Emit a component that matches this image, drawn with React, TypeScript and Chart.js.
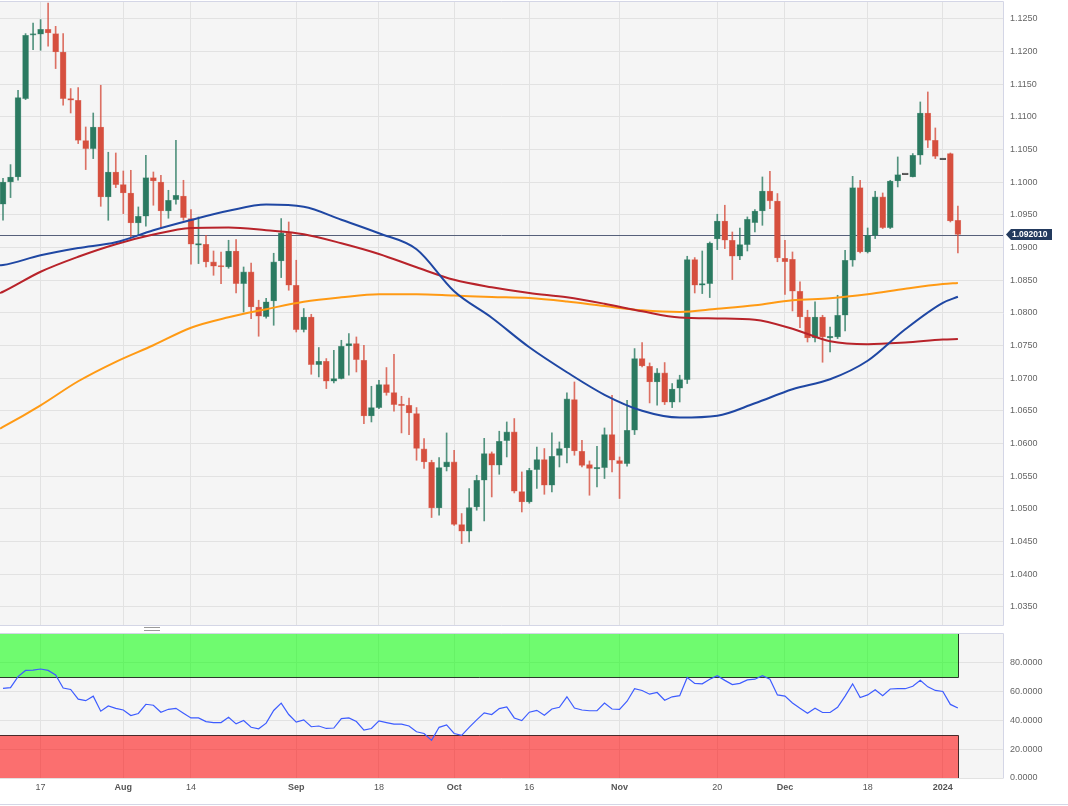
import React, { useEffect, useRef } from "react";
import { Chart, registerables } from "chart.js";
Chart.register(...registerables);

// Daily EUR/USD candles, 10 Jul 2023 -> 3 Jan 2024 (index = trading day)
const opens = [
  1.09664, 1.10005, 1.10082, 1.11282, 1.12253, 1.12266, 1.12342, 1.12276, 1.11995, 1.11282,
  1.11256, 1.10639, 1.10516, 1.10847, 1.09776, 1.10158, 1.09965, 1.09837, 1.09378, 1.09480,
  1.10072, 1.10005, 1.09561, 1.09736, 1.09791, 1.09445, 1.09036, 1.09052, 1.08781, 1.08715,
  1.08704, 1.08949, 1.08450, 1.08628, 1.08092, 1.07945, 1.08184, 1.08796, 1.09225, 1.08424,
  1.07746, 1.07939, 1.07210, 1.07261, 1.06955, 1.06996, 1.07495, 1.07532, 1.07276, 1.06424,
  1.06552, 1.06904, 1.06782, 1.06598, 1.06587, 1.06461, 1.05919, 1.05715, 1.05016, 1.05643,
  1.05720, 1.04762, 1.04659, 1.05031, 1.05440, 1.05848, 1.05669, 1.06047, 1.06179, 1.05266,
  1.05108, 1.05603, 1.05756, 1.05363, 1.05818, 1.05934, 1.06675, 1.05883, 1.05680, 1.05613,
  1.05634, 1.06139, 1.05741, 1.05695, 1.06205, 1.07302, 1.07184, 1.06944, 1.07082, 1.06633,
  1.06848, 1.06981, 1.08817, 1.08424, 1.08450, 1.09133, 1.09408, 1.09113, 1.08868, 1.09047,
  1.09384, 1.09561, 1.09867, 1.09714, 1.08837, 1.08822, 1.08332, 1.07939, 1.07618, 1.07939,
  1.07618, 1.07633, 1.07965, 1.08807, 1.09919, 1.08934, 1.09189, 1.09776, 1.09307, 1.10020,
  1.10118, 1.10082, 1.10414, 1.11061, 1.10643, 1.10348, 1.10440, 1.09419,
];
const highs = [
  1.10062, 1.10271, 1.11409, 1.12276, 1.12439, 1.12491, 1.12745, 1.12388, 1.12276, 1.11435,
  1.11450, 1.10847, 1.11061, 1.11485, 1.10460, 1.10449, 1.10173, 1.10184, 1.09623, 1.10414,
  1.10158, 1.10108, 1.09878, 1.10643, 1.10031, 1.09583, 1.09470, 1.09189, 1.08949, 1.08934,
  1.09113, 1.09124, 1.08704, 1.08765, 1.08195, 1.08225, 1.08914, 1.09445, 1.09393, 1.08807,
  1.08068, 1.07980, 1.07471, 1.07302, 1.07429, 1.07582, 1.07685, 1.07633, 1.07506, 1.06878,
  1.06970, 1.07165, 1.07368, 1.06725, 1.06699, 1.06552, 1.06078, 1.05746, 1.05787, 1.06164,
  1.05899, 1.04930, 1.05313, 1.05516, 1.06081, 1.05873, 1.06190, 1.06332, 1.06384, 1.05567,
  1.05623, 1.05949, 1.05925, 1.06164, 1.06026, 1.06776, 1.06944, 1.06052, 1.05735, 1.05960,
  1.06240, 1.06741, 1.05796, 1.06664, 1.07455, 1.07547, 1.07235, 1.07149, 1.07241, 1.06920,
  1.07047, 1.08868, 1.08848, 1.08949, 1.09087, 1.09511, 1.09649, 1.09240, 1.09301, 1.09470,
  1.09583, 1.10082, 1.10169, 1.09828, 1.09113, 1.08934, 1.08475, 1.08042, 1.08169, 1.07965,
  1.07786, 1.08271, 1.08960, 1.10092, 1.10031, 1.09301, 1.09863, 1.09837, 1.10031, 1.10388,
  1.10118, 1.10440, 1.11230, 1.11383, 1.10832, 1.10348, 1.10449, 1.09638,
];
const lows = [
  1.09419, 1.09766, 1.10031, 1.11266, 1.12032, 1.12021, 1.12082, 1.11741, 1.11179, 1.11061,
  1.10593, 1.10195, 1.10363, 1.09633, 1.09419, 1.09919, 1.09521, 1.09163, 1.09189, 1.09327,
  1.09649, 1.09292, 1.09450, 1.09664, 1.09419, 1.08746, 1.08756, 1.08704, 1.08577, 1.08450,
  1.08684, 1.08306, 1.08015, 1.07914, 1.07644, 1.07919, 1.07812, 1.08542, 1.08348, 1.07709,
  1.07709, 1.07062, 1.07021, 1.06843, 1.06929, 1.06990, 1.07047, 1.07097, 1.06307, 1.06332,
  1.06537, 1.06741, 1.06496, 1.06164, 1.06139, 1.05746, 1.05619, 1.04869, 1.04904, 1.05582,
  1.04750, 1.04471, 1.04495, 1.04981, 1.04817, 1.05184, 1.05531, 1.05796, 1.05245, 1.04954,
  1.05088, 1.05313, 1.05225, 1.05261, 1.05643, 1.05704, 1.05822, 1.05643, 1.05210, 1.05337,
  1.05466, 1.05567, 1.05160, 1.05654, 1.06139, 1.07174, 1.06623, 1.06588, 1.06598, 1.06552,
  1.06638, 1.06920, 1.08306, 1.08297, 1.08236, 1.08970, 1.08986, 1.08511, 1.08817, 1.08949,
  1.09240, 1.09342, 1.09598, 1.08784, 1.08283, 1.08031, 1.07777, 1.07556, 1.07556, 1.07246,
  1.07403, 1.07608, 1.07725, 1.08715, 1.08918, 1.08918, 1.09139, 1.09292, 1.09292, 1.09929,
  1.10118, 1.10082, 1.10276, 1.10532, 1.10363, 1.10348, 1.09393, 1.08918,
];
const closes = [
  1.10005, 1.10082, 1.11297, 1.12250, 1.12261, 1.12342, 1.12286, 1.11995, 1.11282, 1.11256,
  1.10643, 1.10516, 1.10847, 1.09776, 1.10158, 1.09965, 1.09837, 1.09378, 1.09480, 1.10072,
  1.10020, 1.09561, 1.09725, 1.09802, 1.09460, 1.09052, 1.09062, 1.08781, 1.08715, 1.08704,
  1.08949, 1.08450, 1.08628, 1.08092, 1.07950, 1.08172, 1.08781, 1.09225, 1.08424, 1.07746,
  1.07939, 1.07210, 1.07261, 1.06955, 1.06996, 1.07491, 1.07532, 1.07287, 1.06424, 1.06552,
  1.06904, 1.06782, 1.06598, 1.06583, 1.06470, 1.05925, 1.05720, 1.05016, 1.05634, 1.05720,
  1.04762, 1.04659, 1.05022, 1.05440, 1.05848, 1.05669, 1.06037, 1.06179, 1.05271, 1.05108,
  1.05593, 1.05756, 1.05363, 1.05807, 1.05925, 1.06684, 1.05888, 1.05665, 1.05619, 1.05628,
  1.06139, 1.05746, 1.05695, 1.06205, 1.07302, 1.07189, 1.06944, 1.07082, 1.06633, 1.06837,
  1.06981, 1.08817, 1.08424, 1.08450, 1.09071, 1.09408, 1.09113, 1.08868, 1.09047, 1.09434,
  1.09561, 1.09867, 1.09717, 1.08842, 1.08784, 1.08332, 1.07939, 1.07618, 1.07939, 1.07633,
  1.07644, 1.07965, 1.08807, 1.09919, 1.08934, 1.09189, 1.09776, 1.09307, 1.10020, 1.10118,
  1.10118, 1.10414, 1.11061, 1.10643, 1.10398, 1.10348, 1.09408, 1.09201,
];

// Moving averages read at sample trading-day indices
const maIdx = [-0.4, 0, 5, 10, 15, 20, 25, 30, 35, 40, 45, 50, 55, 60, 65, 70, 75, 80, 85, 90, 95, 100, 105, 110, 115, 120, 125, 127];
const ma50 = [
  1.08730, 1.08733, 1.08883, 1.08993, 1.09082, 1.09266, 1.09423, 1.09564, 1.09659, 1.09626,
  1.09427, 1.09220, 1.08975, 1.08332, 1.07927, 1.07475, 1.07093, 1.06748, 1.06503, 1.06399,
  1.06427, 1.06618, 1.06832, 1.06985, 1.07269, 1.07751, 1.08156, 1.08248,
];
const ma100 = [
  1.08306, 1.08325, 1.08631, 1.08860, 1.09052, 1.09200, 1.09300, 1.09310, 1.09266, 1.09205,
  1.09067, 1.08903, 1.08700, 1.08508, 1.08394, 1.08306, 1.08240, 1.08141, 1.08026, 1.07930,
  1.07916, 1.07896, 1.07758, 1.07567, 1.07521, 1.07547, 1.07593, 1.07602,
];
const ma200 = [
  1.06231, 1.06255, 1.06587, 1.06955, 1.07253, 1.07506, 1.07774, 1.07934, 1.08057, 1.08172,
  1.08240, 1.08286, 1.08286, 1.08266, 1.08245, 1.08228, 1.08175, 1.08106, 1.08041, 1.08015,
  1.08064, 1.08118, 1.08195, 1.08225, 1.08286, 1.08370, 1.08442, 1.08459,
];

// RSI(14) per candle
const rsi = [
  62.2, 62.8, 70.4, 74.7, 74.9, 75.7, 74.7, 71.6, 62.5, 61.5,
  54.8, 53.7, 56.8, 46.4, 50.0, 48.4, 47.2, 43.4, 44.8, 51.2,
  50.5, 45.7, 47.7, 48.4, 45.0, 41.7, 41.7, 39.2, 38.5, 38.5,
  42.1, 37.6, 39.9, 35.2, 34.2, 38.1, 46.9, 52.0, 44.1, 38.8,
  40.4, 35.6, 36.1, 34.4, 34.7, 41.2, 41.7, 39.2, 33.3, 34.4,
  39.7, 38.5, 37.4, 37.4, 36.1, 32.1, 30.9, 26.1, 35.2, 36.9,
  30.9, 29.6, 35.2, 40.4, 45.2, 44.1, 48.2, 49.3, 41.7, 39.9,
  45.7, 47.0, 43.6, 47.9, 49.1, 56.4, 48.6, 47.2, 46.7, 46.7,
  52.1, 47.9, 47.7, 53.3, 62.0, 60.8, 58.2, 59.4, 54.0, 56.4,
  57.2, 69.8, 65.7, 65.4, 68.6, 71.0, 67.8, 64.9, 65.7, 68.1,
  68.6, 71.0, 68.6, 57.7, 56.9, 52.1, 48.4, 45.0, 48.4, 45.5,
  45.5, 49.1, 56.9, 65.4, 55.9, 57.7, 61.3, 57.2, 61.8, 62.0,
  62.0, 63.7, 67.8, 63.3, 60.8, 60.1, 51.1, 48.6,
];

const xTickIdx = [5, 16, 25, 39, 50, 60, 70, 82, 95, 104, 115, 125];
const xTickLabels = ["17", "Aug", "14", "Sep", "18", "Oct", "16", "Nov", "20", "Dec", "18", "2024"];
const xTickBold = [false, true, false, true, false, true, false, true, false, true, false, true];
const priceTicks = [1.035, 1.04, 1.045, 1.05, 1.055, 1.06, 1.065, 1.07, 1.075, 1.08, 1.085, 1.09, 1.095, 1.1, 1.105, 1.11, 1.115, 1.12, 1.125];
const rsiTicks = [0, 20, 40, 60, 80];
const rsiUpper = 70;
const rsiLower = 30;

const FONT = "'Liberation Sans', Arial, sans-serif";
const GREEN = "#2b7a61";
const RED = "#d64f3e";
const DOJI = "#555555";
const GRID = "#e2e2e2";
const FRAME = "#d4d6e6";
const PLOTBG = "#f5f5f5";
const X_MIN = -0.4;
const X_MAX = 133;

const N = opens.length;
const candleColor = (i: number) =>
  highs[i] === lows[i] ? DOJI : closes[i] >= opens[i] ? GREEN : RED;

const xAxisBase = (showLabels: boolean) => ({
  type: "linear" as const,
  min: X_MIN,
  max: X_MAX,
  offset: false,
  grid: { color: GRID, drawTicks: false, offset: false },
  border: { display: false },
  afterBuildTicks: (s: any) => {
    s.ticks = xTickIdx.map((v) => ({ value: v }));
  },
  ticks: showLabels
    ? {
        display: true,
        autoSkip: false,
        maxRotation: 0,
        padding: 4,
        color: "#555",
        font: (ctx: any) => {
          const k = xTickIdx.indexOf(ctx.tick ? ctx.tick.value : -1);
          return { family: FONT, size: 9, weight: k >= 0 && xTickBold[k] ? "bold" : "normal" };
        },
        callback: (v: any) => {
          const k = xTickIdx.indexOf(Number(v));
          return k >= 0 ? xTickLabels[k] : "";
        },
      }
    : { display: false },
  afterFit: (s: any) => {
    s.height = showLabels ? 28 : 0;
    s.paddingLeft = 0;
    s.paddingRight = 0;
  },
});

export default function App() {
  const mainRef = useRef<HTMLCanvasElement>(null);
  const rsiRef = useRef<HTMLCanvasElement>(null);

  useEffect(() => {
    const idx = opens.map((_, i) => i);
    const colors = idx.map(candleColor);
    const lastPrice = closes[N - 1];

    const mainDecor = {
      id: "mainDecor",
      beforeDraw(chart: any) {
        const { ctx, chartArea: a } = chart;
        ctx.save();
        ctx.fillStyle = PLOTBG;
        ctx.fillRect(a.left, a.top, a.right - a.left, a.bottom - a.top);
        ctx.restore();
      },
      beforeDatasetsDraw(chart: any) {
        const { ctx, chartArea: a } = chart;
        const y = Math.round(chart.scales.y.getPixelForValue(lastPrice)) + 0.5;
        ctx.save();
        ctx.strokeStyle = "#56607a";
        ctx.lineWidth = 1;
        ctx.beginPath();
        ctx.moveTo(a.left, y);
        ctx.lineTo(a.right, y);
        ctx.stroke();
        ctx.restore();
      },
      afterDraw(chart: any) {
        const { ctx, chartArea: a } = chart;
        ctx.save();
        ctx.strokeStyle = FRAME;
        ctx.lineWidth = 1;
        ctx.beginPath();
        ctx.moveTo(0, a.top - 0.5);
        ctx.lineTo(a.right + 0.5, a.top - 0.5);
        ctx.lineTo(a.right + 0.5, a.bottom + 0.5);
        ctx.lineTo(0, a.bottom + 0.5);
        ctx.stroke();
        // last price tag
        const y = chart.scales.y.getPixelForValue(lastPrice);
        const x0 = a.right + 3;
        const w = 46;
        const h = 11;
        ctx.fillStyle = "#233a5e";
        ctx.beginPath();
        ctx.moveTo(x0, y);
        ctx.lineTo(x0 + 5, y - h / 2);
        ctx.lineTo(x0 + w, y - h / 2);
        ctx.lineTo(x0 + w, y + h / 2);
        ctx.lineTo(x0 + 5, y + h / 2);
        ctx.closePath();
        ctx.fill();
        ctx.fillStyle = "#ffffff";
        ctx.font = `bold 8.5px ${FONT}`;
        ctx.textBaseline = "middle";
        ctx.textAlign = "left";
        ctx.fillText(lastPrice.toFixed(6), x0 + 6, y + 0.5);
        ctx.restore();
      },
    };

    const main = new Chart(mainRef.current as HTMLCanvasElement, {
      type: "bar",
      data: {
        datasets: [
          {
            type: "line",
            label: "SMA50",
            data: maIdx.map((x, k) => ({ x, y: ma50[k] })),
            borderColor: "#1f47a3",
            borderWidth: 2,
            pointRadius: 0,
            cubicInterpolationMode: "monotone",
            order: 0,
          },
          {
            type: "line",
            label: "SMA100",
            data: maIdx.map((x, k) => ({ x, y: ma100[k] })),
            borderColor: "#b8232a",
            borderWidth: 2,
            pointRadius: 0,
            cubicInterpolationMode: "monotone",
            order: 0,
          },
          {
            type: "line",
            label: "SMA200",
            data: maIdx.map((x, k) => ({ x, y: ma200[k] })),
            borderColor: "#ff9a14",
            borderWidth: 2,
            pointRadius: 0,
            cubicInterpolationMode: "monotone",
            order: 0,
          },
          {
            type: "bar",
            label: "body",
            data: idx.map((i) => ({ x: i, y: [opens[i], closes[i]] })) as any,
            backgroundColor: colors,
            borderColor: colors.map((c) => (c === DOJI ? c : c + "99")),
            borderWidth: 0.6,
            borderSkipped: false,
            barThickness: 6,
            minBarLength: 1.5,
            grouped: false,
            order: 1,
          },
          {
            type: "bar",
            label: "wick",
            data: idx.map((i) => ({ x: i, y: [lows[i], highs[i]] })) as any,
            backgroundColor: colors.map((c) => c + "cc"),
            borderWidth: 0,
            barThickness: 1,
            grouped: false,
            order: 2,
          },
        ],
      },
      options: {
        responsive: false,
        animation: false,
        devicePixelRatio: 1,
        events: [],
        layout: { padding: { top: 2, bottom: 1, left: 0, right: 0 } },
        plugins: { legend: { display: false }, tooltip: { enabled: false } },
        scales: {
          x: xAxisBase(false) as any,
          y: {
            type: "linear",
            position: "right",
            min: 1.03224,
            max: 1.1276,
            grid: { color: GRID, drawTicks: false },
            border: { display: false },
            afterBuildTicks: (s: any) => {
              s.ticks = priceTicks.map((v) => ({ value: v }));
            },
            ticks: {
              padding: 7,
              color: "#666",
              font: { family: FONT, size: 9 },
              callback: (v: any) => Number(v).toFixed(4),
            },
            afterFit: (s: any) => {
              s.width = 65;
              s.paddingTop = 0;
              s.paddingBottom = 0;
            },
          } as any,
        },
      },
      plugins: [mainDecor],
    });

    const rsiDecor = {
      id: "rsiDecor",
      beforeDraw(chart: any) {
        const { ctx, chartArea: a } = chart;
        ctx.save();
        ctx.fillStyle = PLOTBG;
        ctx.fillRect(a.left, a.top, a.right - a.left, a.bottom - a.top);
        ctx.restore();
      },
      beforeDatasetsDraw(chart: any) {
        const { ctx, chartArea: a, scales } = chart;
        const xs = scales.x;
        const ys = scales.y;
        const xL = a.left;
        const xR = Math.round(xs.getPixelForValue(N - 1)) + 0.5;
        const yTop = ys.getPixelForValue(100);
        const yUp = Math.round(ys.getPixelForValue(rsiUpper)) + 0.5;
        const yLo = Math.round(ys.getPixelForValue(rsiLower)) + 0.5;
        const yBot = ys.getPixelForValue(0);
        ctx.save();
        ctx.fillStyle = "rgba(0,255,0,0.55)";
        ctx.fillRect(xL, yTop, xR - xL, yUp - yTop);
        ctx.fillStyle = "rgba(255,0,0,0.55)";
        ctx.fillRect(xL, yLo, xR - xL, yBot - yLo);
        ctx.lineWidth = 1;
        ctx.strokeStyle = "#2a3a2a";
        ctx.beginPath();
        ctx.moveTo(xL, yUp);
        ctx.lineTo(xR, yUp);
        ctx.lineTo(xR, yTop);
        ctx.stroke();
        ctx.strokeStyle = "#4a2a2a";
        ctx.beginPath();
        ctx.moveTo(xL, yLo);
        ctx.lineTo(xR, yLo);
        ctx.lineTo(xR, yBot);
        ctx.stroke();
        ctx.restore();
      },
      afterDraw(chart: any) {
        const { ctx, chartArea: a } = chart;
        ctx.save();
        ctx.strokeStyle = FRAME;
        ctx.lineWidth = 1;
        ctx.beginPath();
        ctx.moveTo(0, a.top - 0.5);
        ctx.lineTo(a.right + 0.5, a.top - 0.5);
        ctx.lineTo(a.right + 0.5, a.bottom + 0.5);
        ctx.stroke();
        ctx.restore();
      },
    };

    const rsiChart = new Chart(rsiRef.current as HTMLCanvasElement, {
      type: "line",
      data: {
        datasets: [
          {
            label: "RSI",
            data: idx.map((i) => ({ x: i, y: rsi[i] })),
            borderColor: "#3d5cff",
            borderWidth: 1.2,
            pointRadius: 0,
            tension: 0,
          },
        ],
      },
      options: {
        responsive: false,
        animation: false,
        devicePixelRatio: 1,
        events: [],
        layout: { padding: { top: 4, bottom: 0, left: 0, right: 0 } },
        plugins: { legend: { display: false }, tooltip: { enabled: false } },
        scales: {
          x: xAxisBase(true) as any,
          y: {
            type: "linear",
            position: "right",
            min: 0,
            max: 100,
            grid: { color: GRID, drawTicks: false },
            border: { display: false },
            afterBuildTicks: (s: any) => {
              s.ticks = rsiTicks.map((v) => ({ value: v }));
            },
            ticks: {
              padding: 7,
              color: "#666",
              font: { family: FONT, size: 9 },
              callback: (v: any) => Number(v).toFixed(4),
            },
            afterFit: (s: any) => {
              s.width = 65;
              s.paddingTop = 0;
              s.paddingBottom = 0;
            },
          } as any,
        },
      },
      plugins: [rsiDecor],
    });

    return () => {
      main.destroy();
      rsiChart.destroy();
    };
  }, []);

  return (
    <div
      style={{
        position: "absolute",
        left: 0,
        top: 0,
        width: 1068,
        height: 806,
        background: "#ffffff",
        overflow: "hidden",
      }}
    >
      <canvas
        ref={mainRef}
        width={1068}
        height={626}
        style={{ position: "absolute", left: 0, top: 0, width: 1068, height: 626 }}
      />
      <canvas
        ref={rsiRef}
        width={1068}
        height={176}
        style={{ position: "absolute", left: 0, top: 630, width: 1068, height: 176 }}
      />
      <div
        style={{
          position: "absolute",
          left: 144,
          top: 627,
          width: 16,
          height: 2,
          borderTop: "1px solid #9a9a9a",
          borderBottom: "1px solid #9a9a9a",
        }}
      />
      <div
        style={{
          position: "absolute",
          left: 0,
          top: 804,
          width: 1068,
          height: 1,
          background: FRAME,
        }}
      />
    </div>
  );
}
